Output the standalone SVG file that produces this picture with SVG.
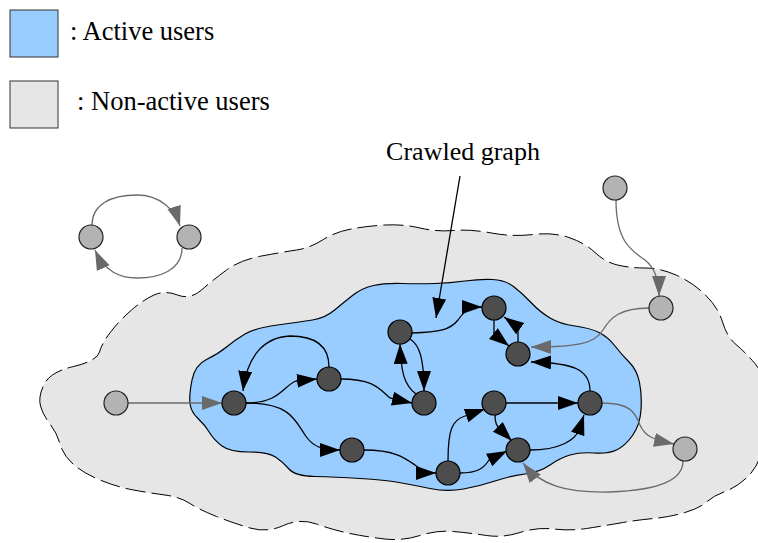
<svg xmlns="http://www.w3.org/2000/svg" width="758" height="543" viewBox="0 0 758 543">
  <style>
    .lbl { font-family: "Liberation Serif", "Times New Roman", serif; fill: #000; }
    .act { fill: #4d4d4d; stroke: #000; stroke-width: 1.2; }
    .ina { fill: #b3b3b3; stroke: #222; stroke-width: 1.2; }
    .eb { fill: none; stroke: #000; stroke-width: 1.3; marker-end: url(#ahB); }
    .eg { fill: none; stroke: #6a6a6a; stroke-width: 1.3; marker-end: url(#ahG); }
  </style>
  <defs>
    <marker id="ahB" markerUnits="userSpaceOnUse" markerWidth="21" markerHeight="15" refX="20" refY="7" orient="auto">
      <path d="M0,0 L20,7 L0,14 Z" fill="#000"/>
    </marker>
    <marker id="ahG" markerUnits="userSpaceOnUse" markerWidth="21" markerHeight="15" refX="20" refY="7" orient="auto">
      <path d="M0,0 L20,7 L0,14 Z" fill="#6a6a6a"/>
    </marker>
  </defs>

  <rect width="758" height="543" fill="#fff"/>

  <!-- legend -->
  <g id="legend">
    <rect x="10" y="10" width="48" height="47" fill="#99ccff" stroke="#333" stroke-width="1"/>
    <text class="lbl" x="70" y="40" font-size="26.5">: Active users</text>
    <rect x="10" y="81" width="48" height="47" fill="#e6e6e6" stroke="#333" stroke-width="1"/>
    <text class="lbl" x="77" y="110" font-size="26.5">: Non-active users</text>
  </g>

  <!-- outer region: whole network, dashed outline -->
  <path id="outer-region" fill="#e6e6e6" stroke="#000" stroke-width="1" stroke-dasharray="20,6"
    d="M40.5,406 Q38,397 44,384.5 Q50,372 73.5,366.5 Q97,361 99.5,352 Q102,343 111,331.5 Q120,320 131.5,310
       Q143,300 154,295 Q165,290 177.5,295 Q190,300 201.5,290 Q213,280 226.5,270 Q240,260 261.5,256
       Q283,252 296.5,250 Q310,248 322.5,240 Q335,232 351,229 Q367,226 385,225 Q403,224 420,228
       Q437,232 453.5,230.5 Q470,229 491.5,233 Q513,237 533,234.5 Q553,232 569,237.5 Q585,243 595,252.5
       Q605,262 617.5,265 Q630,268 645,268 Q660,268 676,275 Q692,282 705,294.5 Q718,307 722.5,322
       Q727,337 736,344.5 Q745,352 755,363.5 Q765,375 766.5,402.5 Q768,430 763,448.5 Q758,467 747.5,477
       Q737,487 725,491.5 Q713,496 706.5,502 Q700,508 685,512.5 Q670,517 653.5,518.5 Q637,520 620,523
       Q603,526 586.5,528.5 Q570,531 553.5,529 Q537,527 520,532.5 Q503,538 486.5,535.5 Q470,533 453.5,531.5
       Q437,530 420,535.5 Q403,541 385,539 Q367,537 350,533.5 Q333,530 316.5,524 Q300,518 283.5,525.5
       Q267,533 250,528 Q233,523 216.5,516.5 Q200,510 190,503.5 Q180,497 165,495 Q150,493 133.5,490
       Q117,487 100,480 Q83,473 73,464 Q63,455 60,444 Q57,433 50,424 Q43,415 40.5,406 Z"/>

  <!-- inner region: crawled graph -->
  <path id="crawled-region" fill="#99ccff" stroke="#000" stroke-width="1.2"
    d="M190,403.5 Q189,395 192,380 Q195,365 206.5,359.5 Q218,354 226.5,347 Q235,340 245,334 Q255,328 277.5,325
       Q300,322 312.5,320 Q325,318 334,310.5 Q343,303 352.5,295.5 Q362,288 373.5,285.5 Q385,283 402.5,283.5
       Q420,284 435,283.5 Q450,283 465,281 Q480,279 492.5,279.5 Q505,280 513.5,286.5 Q522,293 531,302.5
       Q540,312 550,318 Q560,324 575,326 Q590,328 599,332.5 Q608,337 615,346 Q622,355 629.5,362.5
       Q637,370 639.5,382.5 Q642,395 641,410 Q640,425 632.5,435.5 Q625,446 616.5,450 Q608,454 594,453
       Q580,452 570,455 Q560,458 550,465 Q540,472 525,474 Q510,476 495,481 Q480,486 463.5,489
       Q447,492 430,488.5 Q413,485 399,482.5 Q385,480 360,478.5 Q335,477 315,476.5 Q295,476 289,469
       Q283,462 275.5,457 Q268,452 249,452 Q230,452 222,446 Q214,440 209.5,432.5 Q205,425 198,418.5
       Q191,412 190,403.5 Z"/>

  <text id="caption" class="lbl" x="463" y="160" font-size="26" text-anchor="middle">Crawled graph</text>

  <!-- connectors -->
  <g id="connectors">
    <path class="eb" d="M460,176 L436,318"/>

    <path class="eg" d="M128,403 L222,403"/>
    <path class="eb" d="M329,367 C329,342 310,336 290,336 C265,337 247,355 243,391"/>
    <path class="eb" d="M246,403 C280,403 283,386 296,381 L317,379"/>
    <path class="eb" d="M246,403 C290,403 295,420 305,435 C313,447 322,450 340,450"/>
    <path class="eb" d="M341,379 C375,379 380,390 390,398 L412,403"/>
    <path class="eb" d="M416,394 C404,385 401,372 400,344"/>
    <path class="eb" d="M410,339 C420,345 424,360 424,391"/>
    <path class="eb" d="M364,450 C395,450 405,458 415,465 C421,470 426,473 436,473"/>
    <path class="eb" d="M412,333 C440,332 450,330 458,320 C465,310 470,307 482,307"/>
    <path class="eb" d="M494,320 L494,334 L509,346"/>
    <path class="eb" d="M518,342 L518,327 L504,317"/>
    <path class="eg" d="M649,308 C620,308 610,318 603,330 C595,343 580,347 531,347"/>
    <path class="eb" d="M590,391 C590,370 575,363 531,362"/>
    <path class="eb" d="M506,403 L578,403"/>
    <path class="eb" d="M495,415 C495,424 497,426 500,429 L512,441"/>
    <path class="eb" d="M448,461 C448,430 452,420 465,416 L485,409"/>
    <path class="eb" d="M460,473 C478,473 484,468 489,460 L507,451"/>
    <path class="eb" d="M530,450 C560,450 575,440 579,430 L584,415"/>
    <path class="eg" d="M602,403 C630,403 635,412 640,425 C645,437 655,440 674,444"/>
    <path class="eg" d="M683,461 C683,480 660,490 610,492 C565,493 540,485 523,463"/>
    <path class="eg" d="M616,200 C616,240 630,250 645,260 C655,268 659,280 659,296"/>
    <path class="eg" d="M92,225 C92,205 110,195 137,195 C160,195 175,210 180,226"/>
    <path class="eg" d="M182,248 C182,270 160,278 137,278 C120,278 105,272 95,250"/>
  </g>

  <!-- isolated pair -->
  <g id="n-iso-a"><circle class="ina" cx="91" cy="237" r="12"/></g>
  <g id="n-iso-b"><circle class="ina" cx="189" cy="237" r="12"/></g>

  <!-- non-active users -->
  <g id="n-top-right"><circle class="ina" cx="615" cy="188" r="12"/></g>
  <g id="n-right"><circle class="ina" cx="661" cy="308" r="12"/></g>
  <g id="n-left"><circle class="ina" cx="116" cy="403" r="12"/></g>
  <g id="n-bottom-right"><circle class="ina" cx="685" cy="449" r="12"/></g>

  <!-- active users -->
  <g id="a1"><circle class="act" cx="234" cy="403" r="12"/></g>
  <g id="a2"><circle class="act" cx="329" cy="379" r="12"/></g>
  <g id="a3"><circle class="act" cx="400" cy="332" r="12"/></g>
  <g id="a4"><circle class="act" cx="494" cy="308" r="12"/></g>
  <g id="a5"><circle class="act" cx="518" cy="354" r="12"/></g>
  <g id="a6"><circle class="act" cx="424" cy="403" r="12"/></g>
  <g id="a7"><circle class="act" cx="352" cy="450" r="12"/></g>
  <g id="a8"><circle class="act" cx="448" cy="473" r="12"/></g>
  <g id="a9"><circle class="act" cx="494" cy="403" r="12"/></g>
  <g id="a10"><circle class="act" cx="590" cy="403" r="12"/></g>
  <g id="a11"><circle class="act" cx="518" cy="450" r="12"/></g>
</svg>
